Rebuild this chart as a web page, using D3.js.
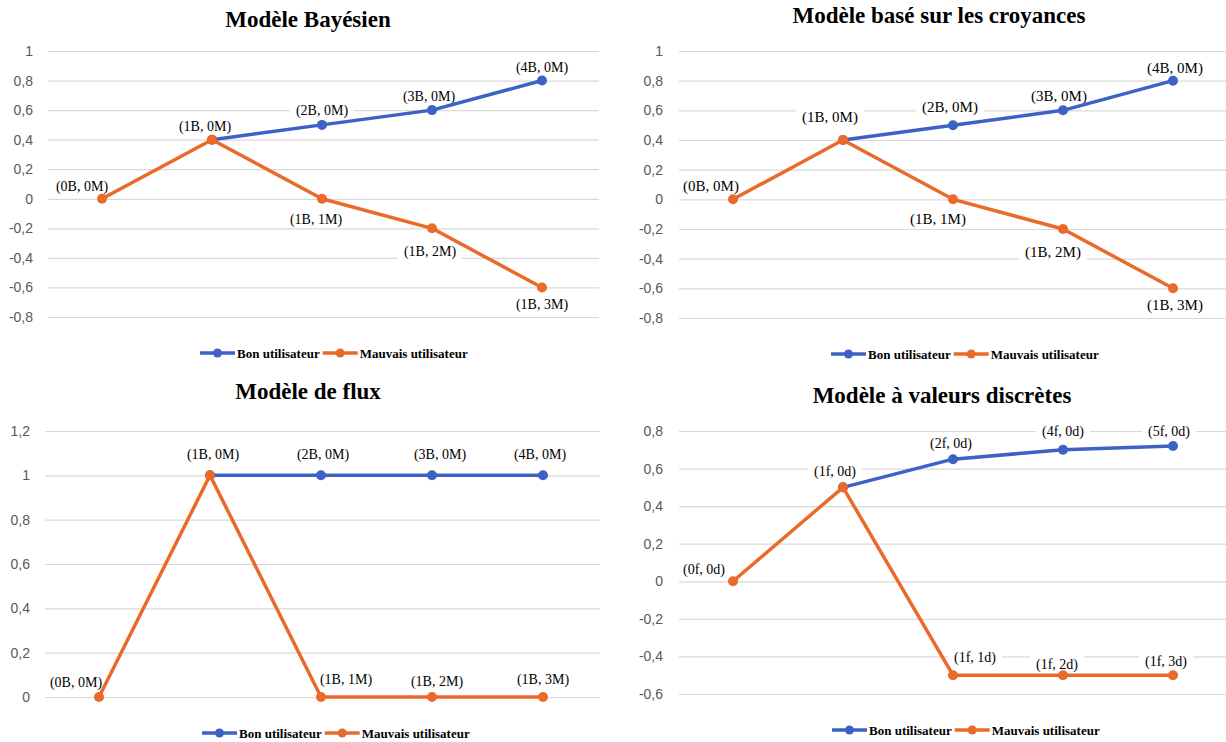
<!DOCTYPE html>
<html>
<head>
<meta charset="utf-8">
<script src="https://cdn.jsdelivr.net/npm/d3@7"></script>
<style>
  body { margin: 0; background: #fff; }
  svg { display: block; }
</style>
</head>
<body>
<div class="chart"></div>
<script>
// categories (5 steps along x)
var steps = [0, 1, 2, 3, 4];
var seriesNames = ['Bon utilisateur', 'Mauvais utilisateur'];

// Modele Bayesien
var bayesBon = [null, 0.4, 0.5, 0.6, 0.8];
var bayesMauvais = [0, 0.4, 0, -0.2, -0.6];
var bayesBonLabels = ['', '(1B, 0M)', '(2B, 0M)', '(3B, 0M)', '(4B, 0M)'];
var bayesMauvaisLabels = ['(0B, 0M)', '', '(1B, 1M)', '(1B, 2M)', '(1B, 3M)'];
var bayesTicks = [-0.8, -0.6, -0.4, -0.2, 0, 0.2, 0.4, 0.6, 0.8, 1];

// Modele base sur les croyances
var croyBon = [null, 0.4, 0.5, 0.6, 0.8];
var croyMauvais = [0, 0.4, 0, -0.2, -0.6];
var croyBonLabels = ['', '(1B, 0M)', '(2B, 0M)', '(3B, 0M)', '(4B, 0M)'];
var croyMauvaisLabels = ['(0B, 0M)', '', '(1B, 1M)', '(1B, 2M)', '(1B, 3M)'];
var croyTicks = [-0.8, -0.6, -0.4, -0.2, 0, 0.2, 0.4, 0.6, 0.8, 1];

// Modele de flux
var fluxBon = [null, 1, 1, 1, 1];
var fluxMauvais = [0, 1, 0, 0, 0];
var fluxBonLabels = ['', '(1B, 0M)', '(2B, 0M)', '(3B, 0M)', '(4B, 0M)'];
var fluxMauvaisLabels = ['(0B, 0M)', '', '(1B, 1M)', '(1B, 2M)', '(1B, 3M)'];
var fluxTicks = [0, 0.2, 0.4, 0.6, 0.8, 1, 1.2];

// Modele a valeurs discretes
var discBon = [null, 0.5, 0.65, 0.7, 0.72];
var discMauvais = [0, 0.5, -0.5, -0.5, -0.5];
var discBonLabels = ['', '(1f, 0d)', '(2f, 0d)', '(4f, 0d)', '(5f, 0d)'];
var discMauvaisLabels = ['(0f, 0d)', '', '(1f, 1d)', '(1f, 2d)', '(1f, 3d)'];
var discTicks = [-0.6, -0.4, -0.2, 0, 0.2, 0.4, 0.6, 0.8];

var colors = ['#3d62c6', '#e96a2b'];
var serif = '"Liberation Serif", "Times New Roman", serif';

var locale = d3.formatLocale({ decimal: ',', thousands: ' ', grouping: [3], currency: ['', ''], minus: '-' });
var fmt = locale.format('~g');

// layout of each panel (label offsets are [dx, dy] from the point)
var panels = [
  { title: 'Modèle Bayésien', tx: 308, ty: 27, x0: 47, x1: 597, gx0: 48, gx1: 599, top: 51, bottom: 317,
    ticks: bayesTicks, tickX: 33, bon: bayesBon, mauvais: bayesMauvais, bonLabels: bayesBonLabels, mauvaisLabels: bayesMauvaisLabels,
    bonOff: [null, [-7, -14], [0, -15], [-3, -14], [0, -13]], mauvaisOff: [[-20, -13], null, [-6, 20], [-2, 23], [0, 17]],
    labelSize: 14, lx: 200, ly: 353 },
  { title: 'Modèle basé sur les croyances', tx: 939, ty: 23, x0: 678, x1: 1228, gx0: 679, gx1: 1226, top: 51, bottom: 318,
    ticks: croyTicks, tickX: 663, bon: croyBon, mauvais: croyMauvais, bonLabels: croyBonLabels, mauvaisLabels: croyMauvaisLabels,
    bonOff: [null, [-13, -23], [-3, -18], [-4, -15], [2, -13]], mauvaisOff: [[-22, -14], null, [-15, 19], [-10, 23], [2, 16]],
    labelSize: 15, lx: 831, ly: 354 },
  { title: 'Modèle de flux', tx: 308, ty: 399, x0: 43.5, x1: 598.5, gx0: 45, gx1: 600, top: 431, bottom: 697,
    ticks: fluxTicks, tickX: 30, bon: fluxBon, mauvais: fluxMauvais, bonLabels: fluxBonLabels, mauvaisLabels: fluxMauvaisLabels,
    bonOff: [null, [3, -21], [2, -21], [8, -21], [-3, -21]], mauvaisOff: [[-23, -15], null, [25, -18], [5, -16], [0, -18]],
    labelSize: 14, lx: 202, ly: 733 },
  { title: 'Modèle à valeurs discrètes', tx: 942, ty: 403, x0: 678, x1: 1228, gx0: 679, gx1: 1226, top: 431, bottom: 694,
    ticks: discTicks, tickX: 663, bon: discBon, mauvais: discMauvais, bonLabels: discBonLabels, mauvaisLabels: discMauvaisLabels,
    bonOff: [null, [-8, -16], [-2, -16], [0, -19], [-4, -15]], mauvaisOff: [[-29, -12], null, [22, -18], [-6, -11], [-7, -14]],
    labelSize: 14, lx: 832, ly: 730 }
];

var svg = d3.select('.chart')
  .append('svg')
  .attr('width', 1226)
  .attr('height', 742);

panels.forEach(function (p) {
  var g = svg.append('g');

  var x = d3.scalePoint().domain(steps).range([p.x0, p.x1]).padding(0.5);
  var y = d3.scaleLinear().domain(d3.extent(p.ticks)).range([p.bottom, p.top]);

  // gridlines + tick labels
  var axis = g.append('g')
    .attr('transform', 'translate(' + p.gx0 + ',0)')
    .call(d3.axisLeft(y)
      .tickValues(p.ticks)
      .tickFormat(fmt)
      .tickSize(-(p.gx1 - p.gx0))
      .tickPadding(p.gx0 - p.tickX));
  axis.select('.domain').remove();
  axis.selectAll('.tick line').attr('stroke', '#d9d9d9').attr('stroke-width', 1.2);
  axis.selectAll('.tick text')
    .attr('fill', '#595959')
    .style('font-family', '"Liberation Sans", Arial, sans-serif')
    .style('font-size', '14px');

  g.append('text')
    .attr('x', p.tx)
    .attr('y', p.ty)
    .attr('text-anchor', 'middle')
    .style('font-family', serif)
    .style('font-weight', 'bold')
    .style('font-size', '23px')
    .text(p.title);

  // data labels with white box (drawn under the lines)
  [[p.bon, p.bonLabels, p.bonOff], [p.mauvais, p.mauvaisLabels, p.mauvaisOff]].forEach(function (set) {
    set[1].forEach(function (lab, i) {
      if (!lab) return;
      var cx = x(steps[i]) + set[2][i][0];
      var cy = y(set[0][i]) + set[2][i][1];
      var lg = g.append('g');
      var rect = lg.append('rect').attr('fill', '#fff');
      var t = lg.append('text')
        .attr('x', cx)
        .attr('y', cy)
        .attr('dy', '0.35em')
        .attr('text-anchor', 'middle')
        .style('font-family', serif)
        .style('font-size', p.labelSize + 'px')
        .attr('fill', '#000')
        .text(lab);
      var w = t.node().getComputedTextLength();
      rect.attr('x', cx - w / 2 - 6).attr('y', cy - p.labelSize / 2 - 2)
        .attr('width', w + 12).attr('height', p.labelSize + 4);
    });
  });

  var line = d3.line()
    .defined(d => d != null)
    .x((d, i) => x(steps[i]))
    .y(d => y(d));

  [p.bon, p.mauvais].forEach(function (vals, s) {
    g.append('path')
      .datum(vals)
      .attr('fill', 'none')
      .attr('stroke', colors[s])
      .attr('stroke-width', 3.5)
      .attr('stroke-linejoin', 'round')
      .attr('d', line);
    g.selectAll(null)
      .data(vals.map((v, i) => ({ v: v, i: i })).filter(d => d.v != null))
      .enter()
      .append('circle')
      .attr('cx', d => x(steps[d.i]))
      .attr('cy', d => y(d.v))
      .attr('r', 5)
      .attr('fill', colors[s]);
  });

  // legend
  var lx = p.lx;
  seriesNames.forEach(function (name, s) {
    g.append('line')
      .attr('x1', lx).attr('x2', lx + 35)
      .attr('y1', p.ly).attr('y2', p.ly)
      .attr('stroke', colors[s])
      .attr('stroke-width', 3.5);
    g.append('circle')
      .attr('cx', lx + 17.5).attr('cy', p.ly).attr('r', 4.5)
      .attr('fill', colors[s]);
    var t = g.append('text')
      .attr('x', lx + 37)
      .attr('y', p.ly + 4.5)
      .style('font-family', serif)
      .style('font-weight', 'bold')
      .style('font-size', '13px')
      .text(name);
    lx += 37 + t.node().getComputedTextLength() + 3;
  });
});
</script>
</body>
</html>
